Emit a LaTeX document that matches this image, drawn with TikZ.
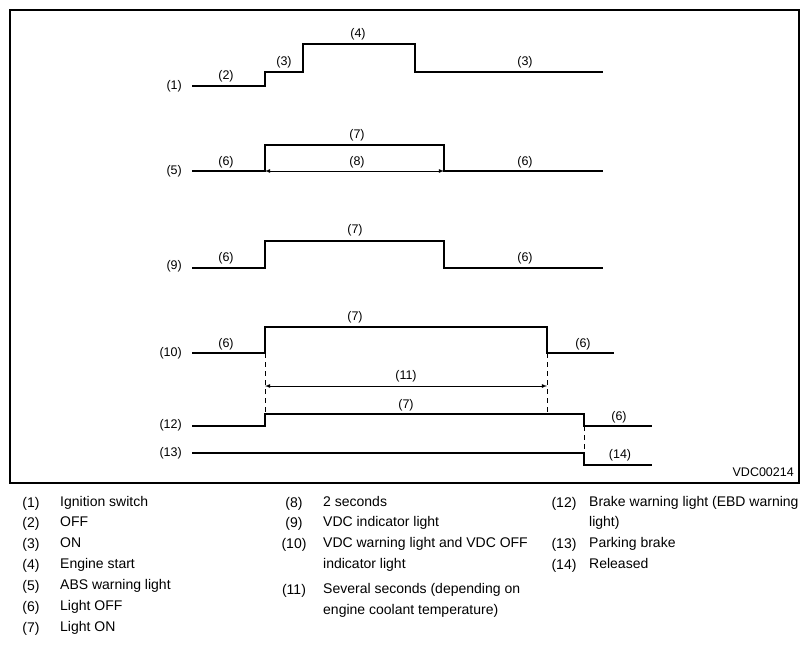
\documentclass[tikz,border=0pt]{standalone}
\usepackage{fontspec}
\setmainfont{Liberation Sans}
\usetikzlibrary{%
  arrows,%
  calc%
}
\tikzset{
  wave/.style={line width=1.1pt},
  guide/.style={line width=0.9pt,dash pattern=on 5pt off 4pt},
  span/.style={line width=0.8pt,latex-latex},
  lbl/.style={inner sep=0pt,font=\fontsize{12.5}{14}\selectfont},
  sig/.style={lbl,anchor=east},
  legnum/.style={inner sep=0pt,font=\fontsize{14}{16}\selectfont},
  leg/.style={legnum,anchor=mid west}
}
\begin{document}
\begin{tikzpicture}[x=1pt,y=-1pt]
  \useasboundingbox (0,0) rectangle (811,645);
  \draw[line width=1.1pt] (10,10) rectangle (799,483);

  % (1) ignition switch
  \coordinate (ig1) at (265,86);
  \coordinate (ig2) at (303,72);
  \coordinate (ig3) at (415,72);
  \draw[wave] (192,86) -- (ig1) |- (ig2) -- ++(0,-28) -| (ig3) -- (603,72);
  \node[sig] (s1) at (182,86) {(1)};
  \node[lbl] (off1) at (226,76) {(2)};
  \node[lbl] (on1) at (284,62) {(3)};
  \node[lbl] (st1) at (358,34) {(4)};
  \node[lbl] (on2) at (525,62) {(3)};

  % (5) ABS warning light
  \coordinate (abs1) at (265,171);
  \coordinate (abs2) at (444,171);
  \draw[wave] (192,171) -- (abs1) -- ++(0,-26) -| (abs2) -- (603,171);
  \draw[span] (abs1) -- (abs2);
  \node[sig] (s5) at (182,171) {(5)};
  \node[lbl] (lo5a) at (226,162) {(6)};
  \node[lbl] (hi5) at (357,135) {(7)};
  \node[lbl] (sec2) at (357,162) {(8)};
  \node[lbl] (lo5b) at (525,162) {(6)};

  % (9) VDC indicator light
  \coordinate (ind1) at (265,268);
  \coordinate (ind2) at (444,268);
  \draw[wave] (192,268) -- (ind1) -- ++(0,-27) -| (ind2) -- (603,268);
  \node[sig] (s9) at (182,266) {(9)};
  \node[lbl] (lo9a) at (226,258) {(6)};
  \node[lbl] (hi9) at (355,230) {(7)};
  \node[lbl] (lo9b) at (525,258) {(6)};

  % (10) VDC warning light
  \coordinate (vdc1) at (265,353);
  \coordinate (vdc2) at (547,353);
  \draw[wave] (192,353) -- (vdc1) -- ++(0,-26) -| (vdc2) -- (614,353);
  \node[sig] (s10) at (182,353) {(10)};
  \node[lbl] (lo10a) at (226,344) {(6)};
  \node[lbl] (hi10) at (355,317) {(7)};
  \node[lbl] (lo10b) at (583,344) {(6)};

  % (11) several seconds
  \coordinate (sev1) at (265,386);
  \coordinate (sev2) at (547,386);
  \draw[guide] (vdc1) -- ($(vdc1)+(0,61)$);
  \draw[guide] (vdc2) -- ($(vdc2)+(0,61)$);
  \draw[span] (sev1) -- (sev2);
  \node[lbl] (sec11) at (406,376) {(11)};

  % (12) brake warning light
  \coordinate (brk1) at (265,426);
  \coordinate (brk2) at (584,426);
  \draw[wave] (192,426) -- (brk1) -- ++(0,-12) -| (brk2) -- (652,426);
  \node[sig] (s12) at (182,425) {(12)};
  \node[lbl] (hi12) at (406,405) {(7)};
  \node[lbl] (lo12) at (619,417) {(6)};

  % (13) parking brake
  \coordinate (pk1) at (584,453);
  \draw[guide] (brk2) -- (pk1);
  \draw[wave] (192,453) -- (pk1) -- ++(0,12) -- (652,465);
  \node[sig] (s13) at (182,453) {(13)};
  \node[lbl] (rel) at (620,455) {(14)};

  \node[lbl,anchor=east] (code) at (794,472) {VDC00214};

  % legend
  \node[legnum] (k1) at (31,504) {(1)};
  \node[leg] (d1) at (60,504) {Ignition switch};
  \node[legnum] (k2) at (31,524) {(2)};
  \node[leg] (d2) at (60,524) {OFF};
  \node[legnum] (k3) at (31,545) {(3)};
  \node[leg] (d3) at (60,545) {ON};
  \node[legnum] (k4) at (31,566) {(4)};
  \node[leg] (d4) at (60,566) {Engine start};
  \node[legnum] (k5) at (31,587) {(5)};
  \node[leg] (d5) at (60,587) {ABS warning light};
  \node[legnum] (k6) at (31,608) {(6)};
  \node[leg] (d6) at (60,608) {Light OFF};
  \node[legnum] (k7) at (31,629) {(7)};
  \node[leg] (d7) at (60,629) {Light ON};

  \node[legnum] (k8) at (294,504) {(8)};
  \node[leg] (d8) at (323,504) {2 seconds};
  \node[legnum] (k9) at (294,524) {(9)};
  \node[leg] (d9) at (323,524) {VDC indicator light};
  \node[legnum] (k10) at (294,545) {(10)};
  \node[leg] (d10) at (323,545) {VDC warning light and VDC OFF};
  \node[leg] (d10b) at (323,566) {indicator light};
  \node[legnum] (k11) at (294,591) {(11)};
  \node[leg] (d11) at (323,591) {Several seconds (depending on};
  \node[leg] (d11b) at (323,612) {engine coolant temperature)};

  \node[legnum] (k12) at (564,504) {(12)};
  \node[leg] (d12) at (589,504) {Brake warning light (EBD warning};
  \node[leg] (d12b) at (589,524) {light)};
  \node[legnum] (k13) at (564,545) {(13)};
  \node[leg] (d13) at (589,545) {Parking brake};
  \node[legnum] (k14) at (564,566) {(14)};
  \node[leg] (d14) at (589,566) {Released};
\end{tikzpicture}
\end{document}
